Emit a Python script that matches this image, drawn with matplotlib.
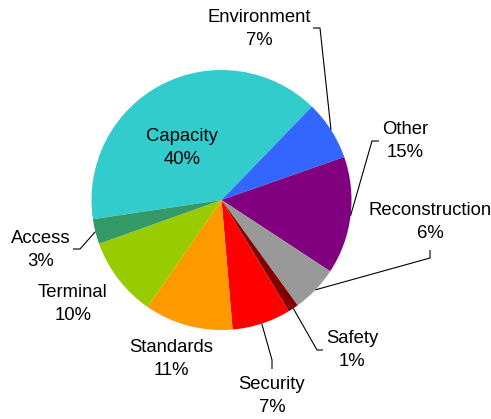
import numpy as np
import matplotlib
matplotlib.use("Agg")
import matplotlib.pyplot as plt

categories = ["Capacity", "Environment", "Other", "Reconstruction", "Safety",
              "Security", "Standards", "Terminal", "Access"]
values = [39.6, 7.4, 14.6, 5.8, 1.3, 7.3, 11.0, 9.9, 3.1]
colors = ["#33CCCC", "#3366FF", "#800080", "#999999", "#800000",
          "#FF0000", "#FF9900", "#99CC00", "#339966"]

W, H = 491, 419
CX, CY, R = 221.5, 200.0, 130.0

def px(x, y):
    return ((x - CX) / R, (CY - y) / R)

fig = plt.figure(figsize=(W / 100, H / 100), dpi=100)
ax = fig.add_axes([0, 0, 1, 1])

wedges, _ = ax.pie(values, colors=colors, startangle=188.5, counterclock=False,
                   radius=1.0, center=(0, 0), frame=True,
                   wedgeprops=dict(linewidth=0))
ax.set_xlim(-CX / R, (W - CX) / R)
ax.set_ylim(-(H - CY) / R, CY / R)
ax.set_aspect("auto")
ax.axis("off")

total = sum(values)
# label block centers (pixels) and leader-line start points
label_pos = {
    "Capacity": (182, 148),
    "Environment": (259, 29),
    "Other": (405, 141),
    "Reconstruction": (430, 222),
    "Safety": (352, 350),
    "Security": (272, 396),
    "Standards": (171, 359),
    "Terminal": (73, 304),
    "Access": (41, 250),
}
leaders = {
    "Environment": [(313, 28), (320, 28)],
    "Other": [(379, 141), (372, 141)],
    "Reconstruction": [(430, 250), (430, 258)],
    "Safety": [(323, 350), (317, 350)],
    "Security": [(272, 369), (272, 360)],
    "Access": [(73, 249), (80, 249)],
}

font = dict(family=["Liberation Sans", "DejaVu Sans"], size=13.3, color="#000000")
for w, cat, v in zip(wedges, categories, values):
    pct = round(v / total * 100)
    lx, ly = px(*label_pos[cat])
    ax.text(lx, ly, f"{cat}\n{pct}%", ha="center", va="center",
            multialignment="center", linespacing=1.45, **font)
    if cat in leaders:
        mid = np.deg2rad((w.theta1 + w.theta2) / 2)
        pts = [px(*p) for p in leaders[cat]] + [(np.cos(mid), np.sin(mid))]
        xs, ys = zip(*pts)
        ax.plot(xs, ys, color="black", linewidth=0.8, solid_capstyle="butt")

fig.savefig("out.png", dpi=100)
